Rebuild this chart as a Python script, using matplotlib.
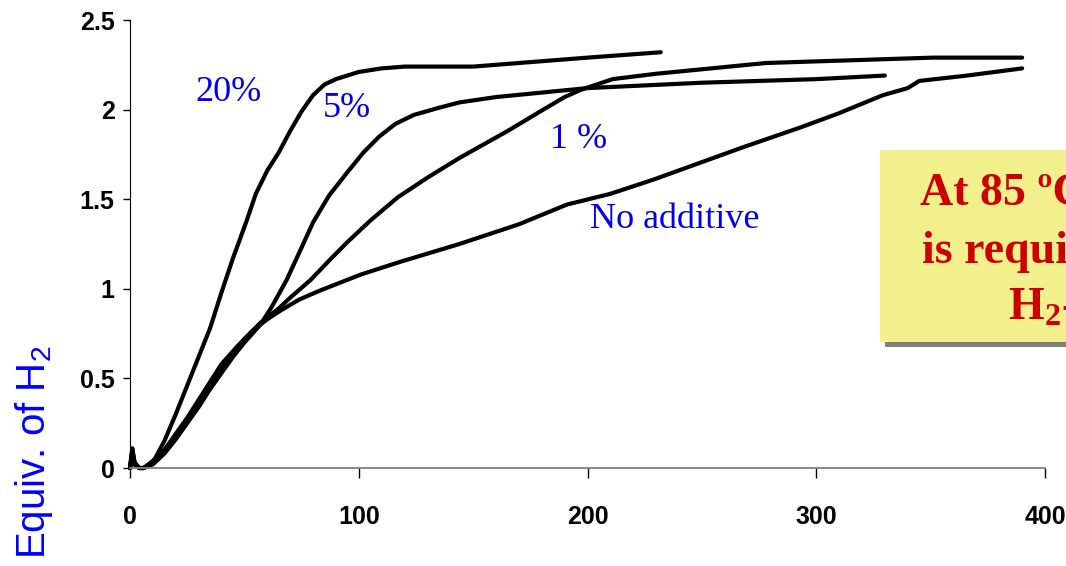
import matplotlib

matplotlib.use("Agg")
import matplotlib.pyplot as plt
from matplotlib.patches import Rectangle

plt.rcParams["mathtext.default"] = "regular"

# Hydrogen release curves (time vs. equiv. of H2)
x_20 = [0, 1, 2, 4, 6, 10, 15, 20, 25, 30, 35, 40, 45, 51, 55, 60, 65, 70, 75, 80,
        85, 90, 95, 100, 110, 120, 150, 180, 200, 232]
y_20 = [0.0, 0.10, 0.03, 0.0, 0.0, 0.03, 0.15, 0.30, 0.46, 0.62, 0.78, 0.98, 1.17,
        1.38, 1.53, 1.66, 1.76, 1.88, 1.99, 2.08, 2.14, 2.17, 2.19, 2.21, 2.23, 2.24,
        2.24, 2.27, 2.29, 2.32]

x_5 = [0, 1, 2, 4, 6, 10, 15, 20, 25, 30, 35, 40, 45, 50, 57, 62, 68.5, 75, 80, 87,
       95, 102, 109, 116, 124, 135, 144, 160, 200, 250, 300, 330]
y_5 = [0.0, 0.09, 0.02, 0.0, 0.0, 0.02, 0.08, 0.16, 0.25, 0.34, 0.44, 0.53, 0.62,
       0.70, 0.80, 0.90, 1.05, 1.23, 1.37, 1.52, 1.65, 1.76, 1.85, 1.92, 1.97, 2.01,
       2.04, 2.07, 2.12, 2.15, 2.17, 2.19]

x_1 = [0, 1, 2, 4, 6, 10, 15, 20, 25, 30, 35, 40, 45, 50, 57, 65, 70, 79, 88, 95,
       105, 117, 130, 144, 165, 182, 190, 197, 211, 230, 278, 351, 390]
y_1 = [0.0, 0.08, 0.02, 0.0, 0.0, 0.03, 0.09, 0.18, 0.27, 0.37, 0.47, 0.56, 0.64,
       0.72, 0.81, 0.89, 0.95, 1.05, 1.17, 1.26, 1.38, 1.51, 1.62, 1.73, 1.88, 2.01,
       2.07, 2.11, 2.17, 2.20, 2.26, 2.29, 2.29]

x_0 = [0, 1, 2, 4, 6, 10, 15, 20, 25, 30, 35, 40, 47, 54, 60, 66, 74, 83, 95, 101,
       118, 144, 170, 191, 210, 229, 255, 268, 293, 310, 329, 340, 345, 366, 390]
y_0 = [0.0, 0.11, 0.03, 0.0, 0.0, 0.04, 0.10, 0.19, 0.28, 0.38, 0.48, 0.58, 0.68,
       0.77, 0.83, 0.88, 0.94, 0.99, 1.05, 1.08, 1.15, 1.25, 1.36, 1.47, 1.53, 1.61,
       1.73, 1.79, 1.90, 1.98, 2.08, 2.12, 2.16, 2.19, 2.23]

series = [(x_20, y_20), (x_5, y_5), (x_1, y_1), (x_0, y_0)]

# curve labels: (text, x, y) in data units, baseline-left
curve_labels = [("20%", 28.4, 2.048), ("5%", 84.4, 1.959),
                ("1 %", 183.6, 1.786), ("No additive", 201, 1.339)]

x_ticks = [0, 100, 200, 300, 400]
y_ticks = [0, 0.5, 1, 1.5, 2, 2.5]
y_tick_labels = ["0", "0.5", "1", "1.5", "2", "2.5"]

W, H = 1066, 566


def fx(px):
    return px / W


def fy(py):
    return 1 - py / H


fig = plt.figure(figsize=(W / 100, H / 100), dpi=100)
ax = fig.add_axes([fx(130), fy(468), fx(1045) - fx(130), fy(20) - fy(468)])

for xs, ys in series:
    ax.plot(xs, ys, color="black", lw=3.0, solid_capstyle="round",
            solid_joinstyle="round", clip_on=False)

for txt, tx, ty in curve_labels:
    ax.text(tx, ty, txt, color="#0000ee", fontsize=26, family="Liberation Serif",
            ha="left", va="baseline")

ax.set_xlim(0, 400)
ax.set_ylim(0, 2.5)
ax.set_xticks(x_ticks)
ax.set_yticks(y_ticks)
ax.set_yticklabels(y_tick_labels)
for lab in ax.get_xticklabels() + ax.get_yticklabels():
    lab.set_family("Liberation Sans")
    lab.set_fontweight("bold")
    lab.set_fontsize(18)
ax.tick_params(axis="x", direction="out", length=7, width=1, color="black", pad=20)
ax.tick_params(axis="y", direction="out", length=5, width=1, color="black", pad=6)

ax.spines["top"].set_visible(False)
ax.spines["right"].set_visible(False)
ax.spines["bottom"].set_color("#808080")
ax.spines["bottom"].set_linewidth(1.3)
ax.spines["left"].set_color("black")
ax.spines["left"].set_linewidth(0.8)

fig.text(fx(34), fy(452), "Equiv. of H$_2$", rotation=90, color="#0000ff",
         fontsize=29, family="Liberation Sans", ha="center", va="center")

# yellow note box (cut off at the right edge, as in the source slide), grey shadow
fig.patches.append(Rectangle((fx(885), fy(347)), fx(300), fy(155) - fy(347),
                             transform=fig.transFigure, facecolor="#808080",
                             edgecolor="none", zorder=1))
fig.patches.append(Rectangle((fx(880), fy(342)), fx(300), fy(150) - fy(342),
                             transform=fig.transFigure, facecolor="#f2f08c",
                             edgecolor="none", zorder=2))

note_lines = [("At 85 ºC", 920, 205), ("is required", 922, 263), ("H$_2$-release", 1008, 320)]
for txt, px, py in note_lines:
    fig.text(fx(px), fy(py), txt, color="#cc0000", fontsize=33, fontweight="bold",
             family="Liberation Serif", ha="left", va="baseline", zorder=3)

fig.savefig("out.png", dpi=100)
